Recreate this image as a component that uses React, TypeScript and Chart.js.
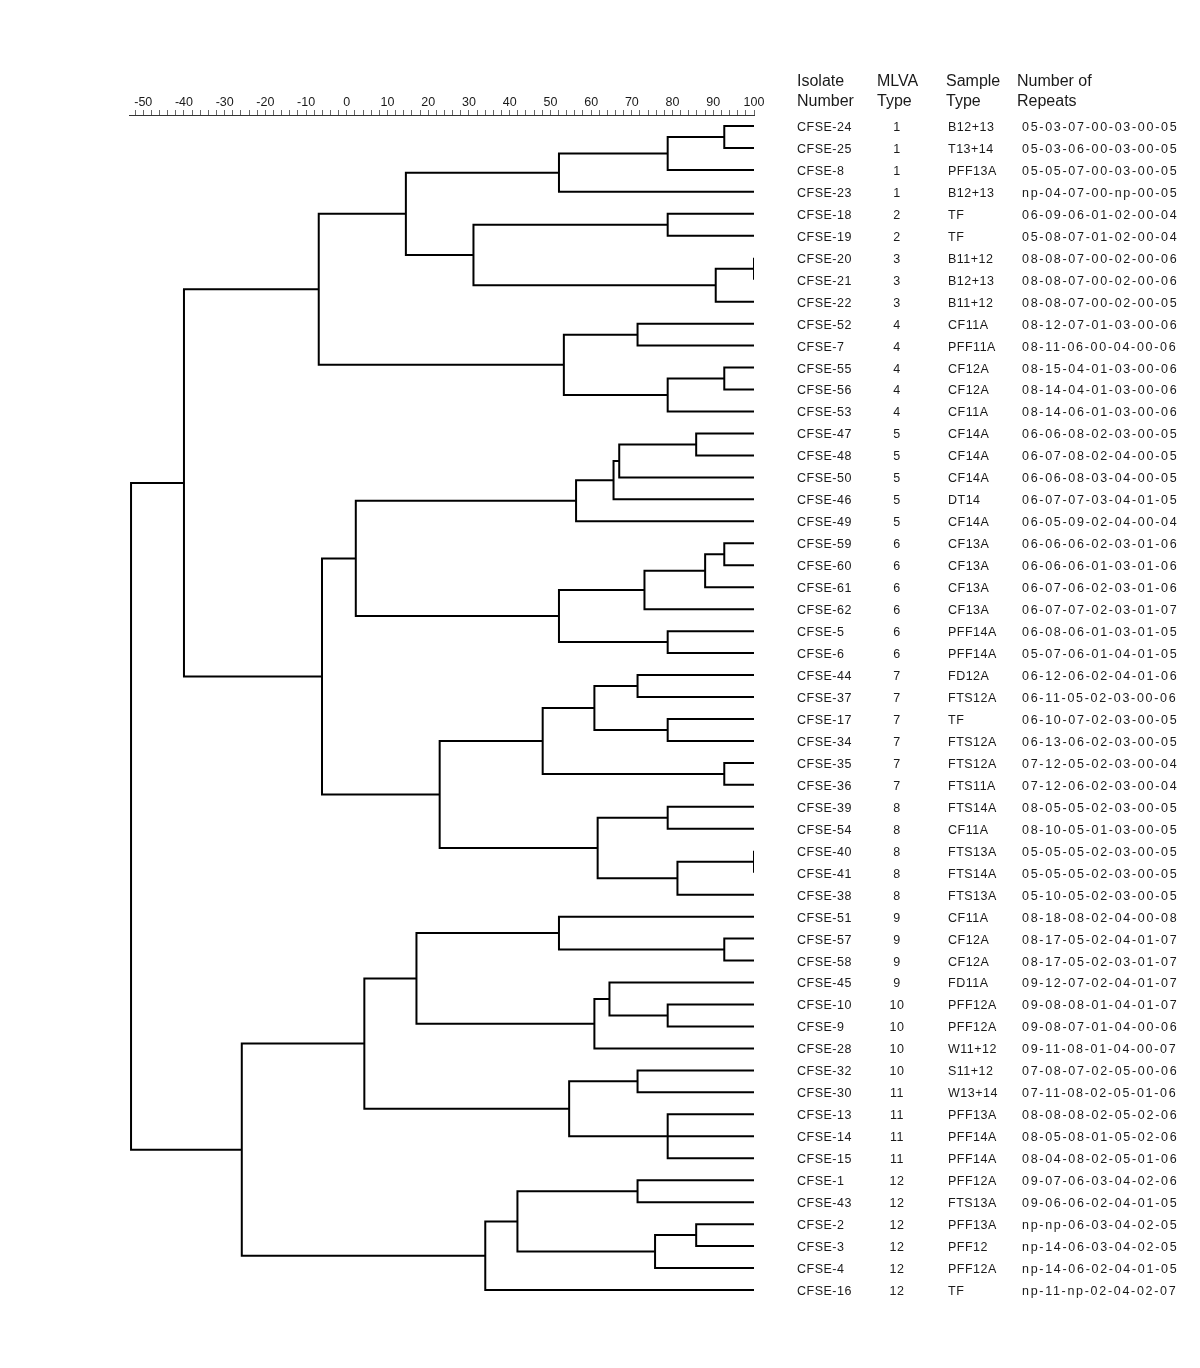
import { useEffect, useRef } from "react";
import { Chart, registerables } from "chart.js";

Chart.register(...registerables);

// ---- Leaf table (top to bottom) ----
const isolates = [
  "CFSE-24", "CFSE-25", "CFSE-8", "CFSE-23", "CFSE-18", "CFSE-19", "CFSE-20", "CFSE-21", "CFSE-22",
  "CFSE-52", "CFSE-7", "CFSE-55", "CFSE-56", "CFSE-53", "CFSE-47", "CFSE-48", "CFSE-50", "CFSE-46",
  "CFSE-49", "CFSE-59", "CFSE-60", "CFSE-61", "CFSE-62", "CFSE-5", "CFSE-6", "CFSE-44", "CFSE-37",
  "CFSE-17", "CFSE-34", "CFSE-35", "CFSE-36", "CFSE-39", "CFSE-54", "CFSE-40", "CFSE-41", "CFSE-38",
  "CFSE-51", "CFSE-57", "CFSE-58", "CFSE-45", "CFSE-10", "CFSE-9", "CFSE-28", "CFSE-32", "CFSE-30",
  "CFSE-13", "CFSE-14", "CFSE-15", "CFSE-1", "CFSE-43", "CFSE-2", "CFSE-3", "CFSE-4", "CFSE-16",
];

const mlvaTypes = [
  "1", "1", "1", "1", "2", "2", "3", "3", "3", "4", "4", "4", "4", "4", "5", "5", "5", "5",
  "5", "6", "6", "6", "6", "6", "6", "7", "7", "7", "7", "7", "7", "8", "8", "8", "8", "8",
  "9", "9", "9", "9", "10", "10", "10", "10", "11", "11", "11", "11", "12", "12", "12", "12", "12", "12",
];

const sampleTypes = [
  "B12+13", "T13+14", "PFF13A", "B12+13", "TF", "TF", "B11+12", "B12+13", "B11+12",
  "CF11A", "PFF11A", "CF12A", "CF12A", "CF11A", "CF14A", "CF14A", "CF14A", "DT14",
  "CF14A", "CF13A", "CF13A", "CF13A", "CF13A", "PFF14A", "PFF14A", "FD12A", "FTS12A",
  "TF", "FTS12A", "FTS12A", "FTS11A", "FTS14A", "CF11A", "FTS13A", "FTS14A", "FTS13A",
  "CF11A", "CF12A", "CF12A", "FD11A", "PFF12A", "PFF12A", "W11+12", "S11+12", "W13+14",
  "PFF13A", "PFF14A", "PFF14A", "PFF12A", "FTS13A", "PFF13A", "PFF12", "PFF12A", "TF",
];

const repeatCounts = [
  "05-03-07-00-03-00-05", "05-03-06-00-03-00-05", "05-05-07-00-03-00-05", "np-04-07-00-np-00-05",
  "06-09-06-01-02-00-04", "05-08-07-01-02-00-04", "08-08-07-00-02-00-06", "08-08-07-00-02-00-06",
  "08-08-07-00-02-00-05", "08-12-07-01-03-00-06", "08-11-06-00-04-00-06", "08-15-04-01-03-00-06",
  "08-14-04-01-03-00-06", "08-14-06-01-03-00-06", "06-06-08-02-03-00-05", "06-07-08-02-04-00-05",
  "06-06-08-03-04-00-05", "06-07-07-03-04-01-05", "06-05-09-02-04-00-04", "06-06-06-02-03-01-06",
  "06-06-06-01-03-01-06", "06-07-06-02-03-01-06", "06-07-07-02-03-01-07", "06-08-06-01-03-01-05",
  "05-07-06-01-04-01-05", "06-12-06-02-04-01-06", "06-11-05-02-03-00-06", "06-10-07-02-03-00-05",
  "06-13-06-02-03-00-05", "07-12-05-02-03-00-04", "07-12-06-02-03-00-04", "08-05-05-02-03-00-05",
  "08-10-05-01-03-00-05", "05-05-05-02-03-00-05", "05-05-05-02-03-00-05", "05-10-05-02-03-00-05",
  "08-18-08-02-04-00-08", "08-17-05-02-04-01-07", "08-17-05-02-03-01-07", "09-12-07-02-04-01-07",
  "09-08-08-01-04-01-07", "09-08-07-01-04-00-06", "09-11-08-01-04-00-07", "07-08-07-02-05-00-06",
  "07-11-08-02-05-01-06", "08-08-08-02-05-02-06", "08-05-08-01-05-02-06", "08-04-08-02-05-01-06",
  "09-07-06-03-04-02-06", "09-06-06-02-04-01-05", "np-np-06-03-04-02-05", "np-14-06-03-04-02-05",
  "np-14-06-02-04-01-05", "np-11-np-02-04-02-07",
];

// ---- Axis ----
const axisTickLabels = [-50, -40, -30, -20, -10, 0, 10, 20, 30, 40, 50, 60, 70, 80, 90, 100];
const axisMinorStep = 2;

// ---- Dendrogram merges (children: isolate names or earlier merge ids) ----
const mergeIds = [
  "m1", "m2", "m3", "m4", "m5", "m6", "m7", "m8", "m9", "m10", "m11", "m12", "m13",
  "m14", "m15", "m16", "m17", "m18", "m19", "m20", "m21", "m22", "m23",
  "m24", "m25", "m26", "m27", "m28", "m29", "m30", "m31", "m32", "m33", "m34", "m35",
  "m36", "m37", "m38", "m39", "m40", "m41", "m42", "m43", "m44", "m45",
  "m46", "m47", "m48", "m49", "m50", "m51", "m52",
];

const mergeChildren = [
  ["CFSE-24", "CFSE-25"], ["m1", "CFSE-8"], ["m2", "CFSE-23"], ["CFSE-18", "CFSE-19"],
  ["CFSE-20", "CFSE-21"], ["m5", "CFSE-22"], ["m4", "m6"], ["m3", "m7"],
  ["CFSE-52", "CFSE-7"], ["CFSE-55", "CFSE-56"], ["m10", "CFSE-53"], ["m9", "m11"], ["m8", "m12"],
  ["CFSE-47", "CFSE-48"], ["m14", "CFSE-50"], ["m15", "CFSE-46"], ["m16", "CFSE-49"],
  ["CFSE-59", "CFSE-60"], ["m18", "CFSE-61"], ["m19", "CFSE-62"], ["CFSE-5", "CFSE-6"],
  ["m20", "m21"], ["m17", "m22"],
  ["CFSE-44", "CFSE-37"], ["CFSE-17", "CFSE-34"], ["m24", "m25"], ["CFSE-35", "CFSE-36"],
  ["m26", "m27"], ["CFSE-39", "CFSE-54"], ["CFSE-40", "CFSE-41"], ["m30", "CFSE-38"],
  ["m29", "m31"], ["m28", "m32"], ["m23", "m33"], ["m13", "m34"],
  ["CFSE-57", "CFSE-58"], ["CFSE-51", "m36"], ["CFSE-10", "CFSE-9"], ["CFSE-45", "m38"],
  ["m39", "CFSE-28"], ["m37", "m40"], ["CFSE-32", "CFSE-30"], ["CFSE-13", "CFSE-14", "CFSE-15"],
  ["m42", "m43"], ["m41", "m44"],
  ["CFSE-1", "CFSE-43"], ["CFSE-2", "CFSE-3"], ["m47", "CFSE-4"], ["m46", "m48"],
  ["m49", "CFSE-16"], ["m45", "m50"], ["m35", "m51"],
];

const mergeHeights = [
  92.7, 78.8, 52.1, 78.8, 100, 90.6, 31.1, 14.5, 71.4, 92.7, 78.8, 53.3, -6.9,
  85.8, 66.9, 65.5, 56.3, 92.7, 88.0, 73.1, 78.8, 52.1, 2.2,
  71.4, 78.8, 60.8, 92.7, 48.1, 78.8, 100, 81.2, 61.6, 22.8, -6.1, -40.0,
  92.7, 52.1, 78.8, 64.5, 60.8, 17.1, 71.4, 78.8, 54.6, 4.3,
  71.4, 85.8, 75.7, 41.9, 34.0, -25.8, -53.0,
];

const FONT = "'Liberation Sans', Arial, Helvetica, sans-serif";

function buildDatasets() {
  const pos: Record<string, { x: number; y: number }> = {};
  isolates.forEach((name, i) => {
    pos[name] = { x: 100, y: i };
  });
  const datasets: any[] = [];
  const base = {
    showLine: true,
    pointRadius: 0,
    pointHoverRadius: 0,
    borderColor: "#000000",
    borderWidth: 2,
    borderJoinStyle: "miter",
    borderCapStyle: "butt",
    fill: false,
    tension: 0,
  };
  mergeIds.forEach((id, k) => {
    const ch = mergeChildren[k].map((c) => pos[c]);
    const h = mergeHeights[k];
    const first = ch[0];
    const last = ch[ch.length - 1];
    datasets.push({
      ...base,
      data: [
        { x: first.x, y: first.y },
        { x: h, y: first.y },
        { x: h, y: last.y },
        { x: last.x, y: last.y },
      ],
    });
    for (let j = 1; j < ch.length - 1; j++) {
      datasets.push({
        ...base,
        data: [
          { x: h, y: ch[j].y },
          { x: ch[j].x, y: ch[j].y },
        ],
      });
    }
    pos[id] = { x: h, y: (first.y + last.y) / 2 };
  });
  return datasets;
}

const tablePlugin = {
  id: "tablePlugin",
  afterDraw(chart: any) {
    const ctx = chart.ctx as CanvasRenderingContext2D;
    const yScale = chart.scales.y;
    ctx.save();
    ctx.fillStyle = "#1a1a1a";
    // headers
    ctx.font = `16px ${FONT}`;
    ctx.textBaseline = "middle";
    ctx.textAlign = "left";
    const headers: [string, string, number][] = [
      ["Isolate", "Number", 797],
      ["MLVA", "Type", 877],
      ["Sample", "Type", 946],
      ["Number of", "Repeats", 1017],
    ];
    headers.forEach(([a, b, x]) => {
      ctx.fillText(a, x, 82);
      ctx.fillText(b, x, 102);
    });
    // rows
    ctx.font = `12.5px ${FONT}`;
    isolates.forEach((name, i) => {
      const y = yScale.getPixelForValue(i) + 1.5;
      (ctx as any).letterSpacing = "0.5px";
      ctx.textAlign = "left";
      ctx.fillText(name, 797, y);
      ctx.textAlign = "center";
      ctx.fillText(mlvaTypes[i], 897, y);
      ctx.textAlign = "left";
      ctx.fillText(sampleTypes[i], 948, y);
      (ctx as any).letterSpacing = "1.7px";
      ctx.fillText(repeatCounts[i], 1022, y);
    });
    ctx.restore();
  },
};

export default function App() {
  const canvasRef = useRef<HTMLCanvasElement | null>(null);

  useEffect(() => {
    const canvas = canvasRef.current;
    if (!canvas) return;
    const chart = new Chart(canvas, {
      type: "scatter",
      data: { datasets: buildDatasets() },
      options: {
        responsive: false,
        animation: false,
        events: [],
        layout: { padding: { left: 129, right: 446, top: 76, bottom: 67 } },
        plugins: { legend: { display: false }, tooltip: { enabled: false } },
        scales: {
          x: {
            type: "linear",
            position: "top",
            min: -53.5,
            max: 100,
            afterFit: (scale: any) => {
              scale.height = 39;
            },
            afterBuildTicks: (scale: any) => {
              const t: { value: number }[] = [];
              for (let v = -52; v <= 100; v += axisMinorStep) t.push({ value: v });
              scale.ticks = t;
            },
            border: { display: true, color: "#333333", width: 1 },
            grid: {
              drawOnChartArea: false,
              drawTicks: true,
              tickLength: 5,
              color: "#666666",
              lineWidth: 1,
            },
            ticks: {
              autoSkip: false,
              maxRotation: 0,
              padding: 0,
              color: "#1a1a1a",
              font: { family: FONT, size: 12.5 },
              callback: (v: any) => (axisTickLabels.includes(Number(v)) ? String(v) : ""),
            },
          },
          y: {
            type: "linear",
            display: false,
            reverse: true,
            min: -0.5,
            max: 53.5,
          },
        },
      },
      plugins: [tablePlugin],
    } as any);
    return () => chart.destroy();
  }, []);

  return (
    <div style={{ position: "absolute", left: 0, top: 0, width: 1200, height: 1368, background: "#fff" }}>
      <canvas ref={canvasRef} width={1200} height={1368} style={{ display: "block" }} />
    </div>
  );
}
